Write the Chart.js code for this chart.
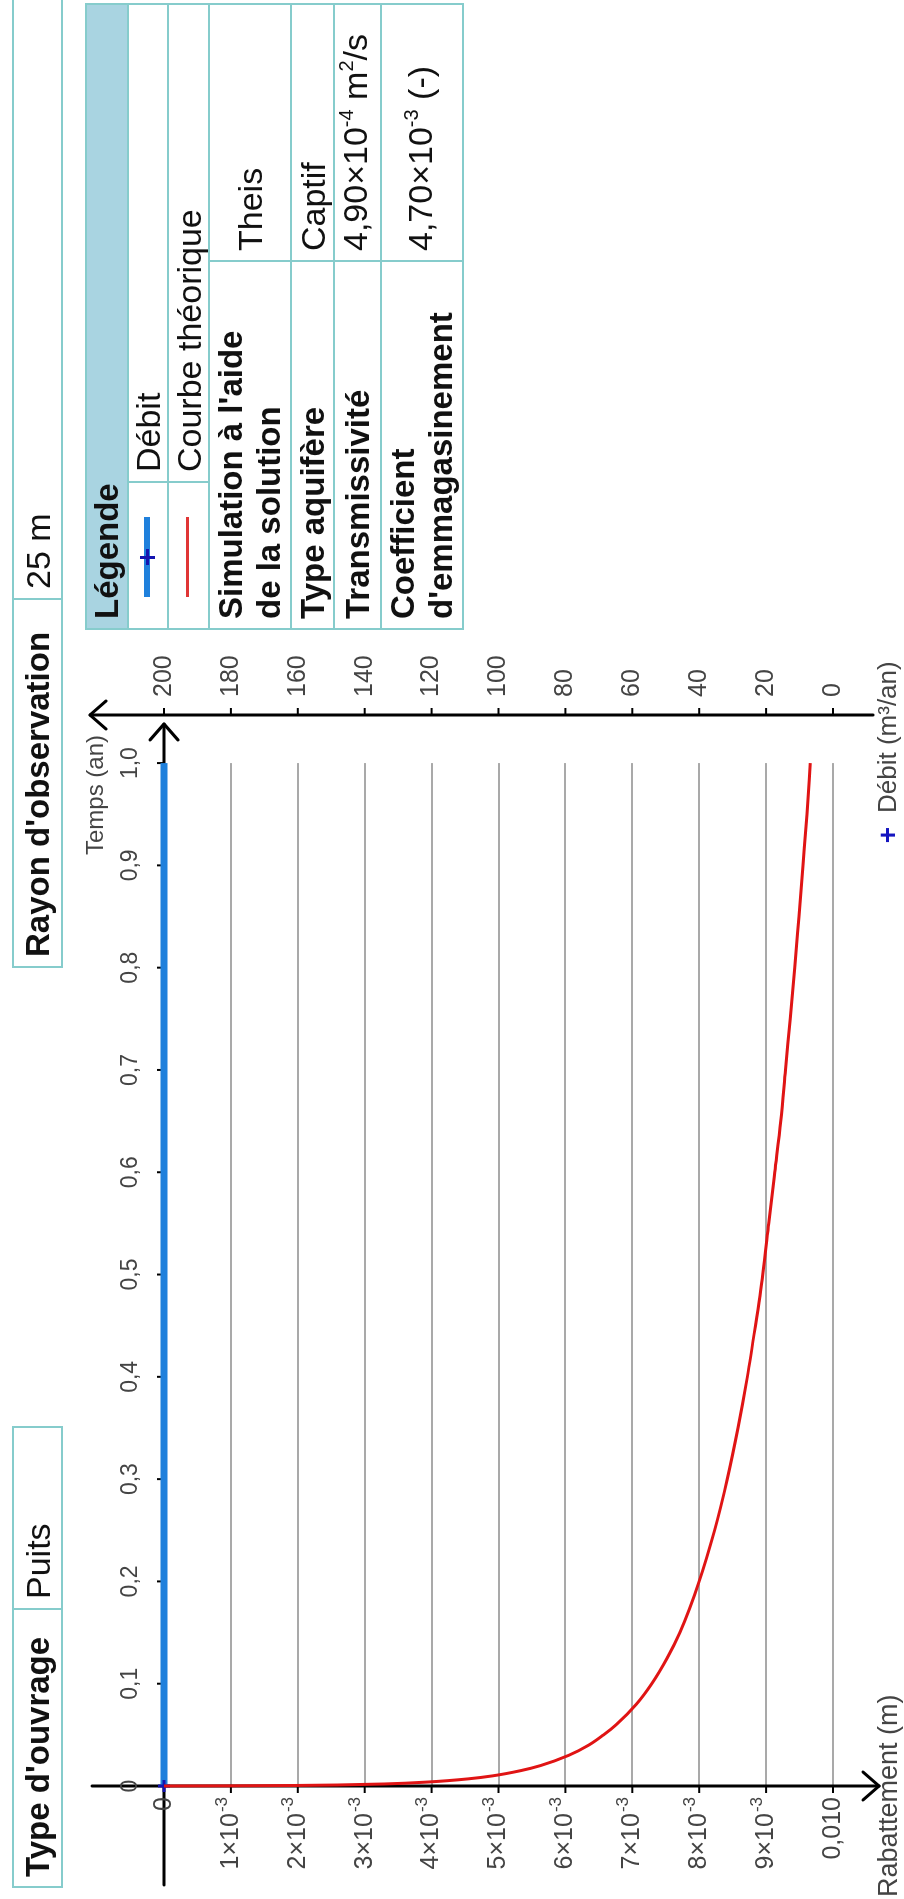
<!DOCTYPE html>
<html><head><meta charset="utf-8">
<script src="https://cdn.jsdelivr.net/npm/chart.js@4.4.1/dist/chart.umd.min.js"></script>
<style>
html,body{margin:0;padding:0;width:904px;height:1899px;overflow:hidden;background:#fff;}
#land{position:absolute;left:0;top:0;width:1899px;height:904px;transform-origin:0 0;transform:translateY(1899px) rotate(-90deg);overflow:hidden;background:#fff;font-family:"Liberation Sans",Arial,sans-serif;color:#111;}
#c{position:absolute;left:0;top:0;}
.cell{position:absolute;box-sizing:border-box;border:2px solid #86cccc;display:flex;align-items:center;padding-left:9px;font-size:34px;line-height:38px;white-space:nowrap;background:#fff;}
.b{font-weight:bold;font-size:33px;}
.hd{background:#a9d4e1;}
sup{font-size:20px;vertical-align:0;position:relative;top:-14px;}
.sym{position:absolute;}
</style></head>
<body>
<div id="land">
<canvas id="c" width="1899" height="904"></canvas>

<div class="cell b" style="left:11px;top:12px;width:280px;height:51px;">Type d'ouvrage</div>
<div class="cell" style="left:289px;top:12px;width:184px;height:51px;">Puits</div>

<div class="cell b" style="left:931px;top:12px;width:370px;height:51px;">Rayon d'observation</div>
<div class="cell" style="left:1299px;top:12px;width:620px;height:51px;">25 m</div>

<div class="cell b hd" style="left:1269px;top:85px;width:627px;height:44px;">Légende</div>
<div class="cell" style="left:1269px;top:127px;width:149px;height:42px;">
  <div class="sym" style="left:31px;top:15px;width:80px;height:6px;background:#1f80dc;"></div>
  <div class="sym" style="left:63px;top:17px;width:16px;height:3px;background:#1414b0;"></div>
  <div class="sym" style="left:69px;top:11px;width:3px;height:15px;background:#1414b0;"></div>
</div>
<div class="cell" style="left:1416px;top:127px;width:480px;height:42px;">Débit</div>
<div class="cell" style="left:1269px;top:167px;width:149px;height:43px;">
  <div class="sym" style="left:31px;top:17px;width:80px;height:3px;background:#e03535;"></div>
</div>
<div class="cell" style="left:1416px;top:167px;width:480px;height:43px;">Courbe théorique</div>
<div class="cell b" style="left:1269px;top:208px;width:370px;height:84px;"><span>Simulation à l'aide<br>de la solution</span></div>
<div class="cell" style="left:1637px;top:208px;width:259px;height:84px;">Theis</div>
<div class="cell b" style="left:1269px;top:290px;width:370px;height:45px;">Type aquifère</div>
<div class="cell" style="left:1637px;top:290px;width:259px;height:45px;">Captif</div>
<div class="cell b" style="left:1269px;top:333px;width:370px;height:49px;">Transmissivité</div>
<div class="cell" style="left:1637px;top:333px;width:259px;height:49px;"><span>4,90×10<sup>-4</sup> m<sup>2</sup>/s</span></div>
<div class="cell b" style="left:1269px;top:380px;width:370px;height:84px;"><span>Coefficient<br>d'emmagasinement</span></div>
<div class="cell" style="left:1637px;top:380px;width:259px;height:84px;"><span>4,70×10<sup>-3</sup> (-)</span></div>
</div>

<script>
// ---- data ----
const timeYears = [0, 0.0002, 0.0005, 0.001, 0.002, 0.004, 0.007, 0.01, 0.015, 0.02, 0.03, 0.04, 0.05, 0.06, 0.08, 0.1, 0.125, 0.15, 0.2, 0.25, 0.3, 0.35, 0.4, 0.45, 0.5, 0.55, 0.6, 0.65, 0.7, 0.75, 0.8, 0.85, 0.9, 0.95, 1.0];
const rabattementM = [0, 0.0011, 0.00195, 0.0026, 0.0033, 0.00397, 0.00455, 0.00492, 0.00533, 0.00563, 0.00605, 0.00635, 0.00657, 0.00676, 0.00706, 0.00729, 0.00752, 0.00771, 0.0080, 0.00823, 0.00842, 0.00858, 0.00872, 0.00884, 0.00895, 0.00904, 0.00913, 0.00922, 0.00929, 0.00936, 0.00943, 0.00949, 0.00955, 0.00961, 0.00966];
const debitTime = [0, 1.0];
const debitM3an = [200, 200];

const timeTicks = [0, 0.1, 0.2, 0.3, 0.4, 0.5, 0.6, 0.7, 0.8, 0.9, 1.0];
const timeTickLabels = ["0", "0,1", "0,2", "0,3", "0,4", "0,5", "0,6", "0,7", "0,8", "0,9", "1,0"];
const rabTicks = [0, 0.001, 0.002, 0.003, 0.004, 0.005, 0.006, 0.007, 0.008, 0.009, 0.010];
const rabTickLabels = ["0", "1×10^-3", "2×10^-3", "3×10^-3", "4×10^-3", "5×10^-3", "6×10^-3", "7×10^-3", "8×10^-3", "9×10^-3", "0,010"];
const debitTicks = [0, 20, 40, 60, 80, 100, 120, 140, 160, 180, 200];
const debitTickLabels = ["0", "20", "40", "60", "80", "100", "120", "140", "160", "180", "200"];

const FONT = '"Liberation Sans", Arial, sans-serif';

function drawLabel(ctx, str, x, y, align, size, color) {
  const parts = str.split('^');
  const es = Math.round(size * 0.66);
  ctx.font = size + 'px ' + FONT;
  const w0 = ctx.measureText(parts[0]).width;
  let w1 = 0;
  if (parts[1]) { ctx.font = es + 'px ' + FONT; w1 = ctx.measureText(parts[1]).width + 1; }
  const total = w0 + w1;
  const sx = align === 'right' ? x - total : (align === 'center' ? x - total / 2 : x);
  ctx.fillStyle = color;
  ctx.textAlign = 'left';
  ctx.textBaseline = 'middle';
  ctx.font = size + 'px ' + FONT;
  ctx.fillText(parts[0], sx, y);
  if (parts[1]) { ctx.font = es + 'px ' + FONT; ctx.fillText(parts[1], sx + w0 + 1, y - size * 0.36); }
}

function seg(ctx, x1, y1, x2, y2) { ctx.beginPath(); ctx.moveTo(x1, y1); ctx.lineTo(x2, y2); ctx.stroke(); }
function arrow(ctx, x, y, dx, dy) {
  const back = 16, side = 14;
  const px = -dy, py = dx;
  ctx.beginPath();
  ctx.moveTo(x - dx * back + px * side, y - dy * back + py * side);
  ctx.lineTo(x, y);
  ctx.lineTo(x - dx * back - px * side, y - dy * back - py * side);
  ctx.stroke();
}

const axesPlugin = {
  id: 'axesPlugin',
  beforeDatasetsDraw(chart) {
    const ctx = chart.ctx;
    const xs = chart.scales.x, ys = chart.scales.y, y2 = chart.scales.y2;
    const X0 = xs.getPixelForValue(0), X1 = xs.getPixelForValue(1.0), Xr = chart.chartArea.right;
    const Y0 = ys.getPixelForValue(0), Ym = ys.getPixelForValue(0.010);
    ctx.save();
    // grid lines (t = 0 .. 1)
    ctx.strokeStyle = '#a9a9a9'; ctx.lineWidth = 2;
    rabTicks.forEach(v => {
      if (v === 0) return;
      const py = Math.round(ys.getPixelForValue(v));
      seg(ctx, X0, py, X1, py);
    });
    // axes
    ctx.strokeStyle = '#000'; ctx.lineWidth = 3; ctx.lineCap = 'round'; ctx.lineJoin = 'round';
    const Xt = Xr - 9;
    seg(ctx, X0 - 99, Y0, Xt, Y0); arrow(ctx, Xt, Y0, 1, 0);
    seg(ctx, X0, Y0 - 72, X0, Ym + 46); arrow(ctx, X0, Ym + 46, 0, 1);
    const Yd200 = y2.getPixelForValue(200), Yd0 = y2.getPixelForValue(0);
    seg(ctx, Xr, Yd200 - 74, Xr, Yd0 + 40); arrow(ctx, Xr, Yd200 - 74, 0, -1);
    // tick marks
    ctx.lineWidth = 2; ctx.lineCap = 'butt';
    timeTicks.forEach(t => { if (t === 0) return; const px = xs.getPixelForValue(t); seg(ctx, px, Y0 - 7, px, Y0); });
    rabTicks.forEach(v => { const py = ys.getPixelForValue(v); seg(ctx, X0 - 7, py, X0, py); });
    debitTicks.forEach(v => { const py = y2.getPixelForValue(v); seg(ctx, Xr, py, Xr + 7, py); });
    // tick labels
    const tc = '#444';
    timeTicks.forEach((t, i) => drawLabel(ctx, timeTickLabels[i], xs.getPixelForValue(t), Y0 - 33, 'center', 23, tc));
    rabTicks.forEach((v, i) => drawLabel(ctx, rabTickLabels[i], X0 - 11, ys.getPixelForValue(v), 'right', 25, tc));
    debitTicks.forEach((v, i) => drawLabel(ctx, debitTickLabels[i], Xr + 18, y2.getPixelForValue(v), 'left', 25, tc));
    // axis titles
    drawLabel(ctx, 'Temps (an)', Xr - 20, Y0 - 68, 'right', 24, '#444');
    drawLabel(ctx, 'Rabattement (m)', 2, 890, 'left', 27, '#444');
    ctx.font = 'bold 28px ' + FONT; ctx.fillStyle = '#1515c0'; ctx.textAlign = 'center'; ctx.textBaseline = 'middle';
    ctx.fillText('+', 1064, 889);
    drawLabel(ctx, 'Débit (m³/an)', 1086, 889, 'left', 26, '#444');
    ctx.restore();
  }
};

new Chart(document.getElementById('c'), {
  type: 'line',
  data: {
    datasets: [
      {
        label: 'Courbe théorique',
        data: timeYears.map((t, i) => ({ x: t, y: rabattementM[i] })),
        yAxisID: 'y',
        borderColor: '#e01414',
        borderWidth: 3,
        pointRadius: 0,
        cubicInterpolationMode: 'monotone',
        clip: false,
        order: 0
      },
      {
        label: 'Débit',
        data: debitTime.map((t, i) => ({ x: t, y: debitM3an[i] })),
        yAxisID: 'y2',
        borderColor: '#1f80dc',
        borderWidth: 7,
        pointStyle: 'cross',
        pointRadius: (c) => c.dataIndex === 0 ? 6 : 0,
        pointBorderColor: '#1414b0',
        pointBorderWidth: 3,
        clip: false,
        order: 1
      }
    ]
  },
  options: {
    responsive: false,
    animation: false,
    events: [],
    layout: { padding: { left: 113, right: 715, top: 164, bottom: 71 } },
    plugins: { legend: { display: false }, tooltip: { enabled: false }, title: { display: false } },
    scales: {
      x: { type: 'linear', min: 0, max: 1.047, display: false },
      y: { type: 'linear', min: 0, max: 0.010, reverse: true, display: false },
      y2: { type: 'linear', min: 0, max: 200, display: false }
    }
  },
  plugins: [axesPlugin]
});
</script>
</body></html>
